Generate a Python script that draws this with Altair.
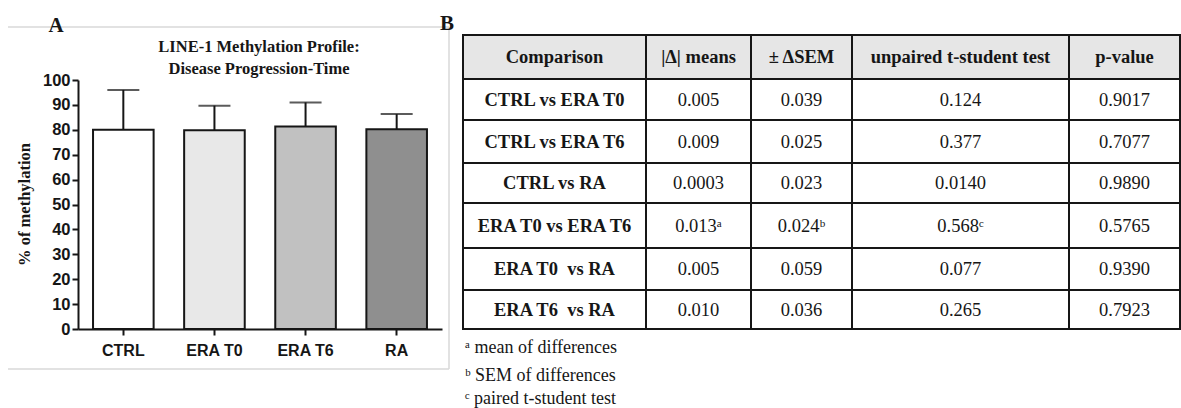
import altair as alt
import pandas as pd

# ---- Panel A: LINE-1 methylation (%) per group; bar = mean, whisker = upper error
groups = ["CTRL", "ERA T0", "ERA T6", "RA"]
means = [80.0, 79.8, 81.3, 80.2]
upper = [96.0, 89.7, 91.0, 86.3]
fills = ["#ffffff", "#e8e8e8", "#c1c1c1", "#8f8f8f"]
y_ticks = list(range(0, 101, 10))

# ---- Panel B: pairwise comparisons
headers = ["Comparison", "|Δ| means", "± ΔSEM", "unpaired t-student test", "p-value"]
comparisons = ["CTRL vs ERA T0", "CTRL vs ERA T6", "CTRL vs RA",
               "ERA T0 vs ERA T6", "ERA T0\u00a0 vs RA", "ERA T6\u00a0 vs RA"]
abs_delta = ["0.005", "0.009", "0.0003", "0.013ᵃ", "0.005", "0.010"]
delta_sem = ["0.039", "0.025", "0.023", "0.024ᵇ", "0.059", "0.036"]
t_values = ["0.124", "0.377", "0.0140", "0.568ᶜ", "0.077", "0.265"]
p_values = ["0.9017", "0.7077", "0.9890", "0.5765", "0.9390", "0.7923"]
footnotes = ["ᵃ mean of differences", "ᵇ SEM of differences", "ᶜ paired t-student test"]

# table geometry (pixels)
col_widths = [183, 105, 101, 217, 111]
row_heights = [44, 41, 43, 40, 45, 42, 39]
TABLE_X = [463, 1180]
TABLE_Y = [35, 329]

SERIF = "Liberation Serif"
SANS = "Liberation Sans"
INK = "#161616"
one = pd.DataFrame({"k": [0]})

# ---------------- Panel A ----------------
bar_df = pd.DataFrame({"group": groups, "mean": means, "upper": upper, "fill": fills})

xs = alt.Scale(domain=groups, range=[78, 442], paddingInner=0.335, paddingOuter=0.165)
ys = alt.Scale(domain=[0, 100], range=[329, 80], nice=False, zero=True)

x_enc = alt.X("group:N", sort=groups, scale=xs,
              axis=alt.Axis(title=None, labelAngle=0, labelFont=SANS, labelFontWeight="bold",
                            labelFontSize=16, labelColor=INK, labelPadding=7,
                            tickSize=6, tickWidth=2, tickColor=INK,
                            domainColor=INK, domainWidth=2, grid=False, offset=-79))
y_axis = alt.Axis(values=y_ticks, title="% of methylation", titleFont=SERIF,
                  titleFontSize=16.5, titleFontWeight="bold", titleColor=INK,
                  titleX=-54, titleY=204, titleBaseline="middle",
                  labelFont=SANS, labelFontWeight="bold", labelFontSize=16.5,
                  labelColor=INK, labelPadding=2, tickSize=6, tickWidth=2,
                  tickColor=INK, domainColor=INK, domainWidth=2, grid=False, offset=-78)

base = alt.Chart(bar_df)
whisker = base.mark_rule(color=INK, strokeWidth=2).encode(
    x=x_enc, y=alt.Y("mean:Q", scale=ys, axis=y_axis), y2="upper:Q")
caps = base.mark_tick(color=INK, size=32, thickness=2).encode(
    x=x_enc, y=alt.Y("upper:Q", scale=ys))
bars = base.mark_bar(stroke=INK, strokeWidth=2).encode(
    x=x_enc, y=alt.Y("mean:Q", scale=ys), fill=alt.Fill("fill:N", scale=None))
panel_a = alt.layer(whisker, bars, caps)

frame_color = "#d8d8d8"
frame = alt.layer(
    alt.Chart(one).mark_rule(color=frame_color, strokeWidth=1.5).encode(
        x=alt.value(8), x2=alt.value(449), y=alt.value(27)),
    alt.Chart(one).mark_rule(color=frame_color, strokeWidth=1.5).encode(
        x=alt.value(449), y=alt.value(27), y2=alt.value(369)),
    alt.Chart(one).mark_rule(color=frame_color, strokeWidth=1.5).encode(
        x=alt.value(8), x2=alt.value(449), y=alt.value(369)),
)

def label(text, x, y, size, weight="bold", align="center"):
    return alt.Chart(one).mark_text(
        text=text, font=SERIF, fontSize=size, fontWeight=weight, color=INK,
        align=align, baseline="alphabetic").encode(x=alt.value(x), y=alt.value(y))

titles = alt.layer(
    label("A", 56, 32, 21),
    label("LINE-1 Methylation Profile:", 259, 51.5, 16.5),
    label("Disease Progression-Time", 259, 73.5, 16.5),
    label("B", 447, 30, 21),
    label(footnotes[0], 465, 353, 18, "normal", "left"),
    label(footnotes[1], 465, 381, 18, "normal", "left"),
    label(footnotes[2], 465, 404, 18, "normal", "left"),
)

# ---------------- Panel B ----------------
x_edges = [0]
for w in col_widths:
    x_edges.append(x_edges[-1] + w)
y_edges = [0]
for h in row_heights:
    y_edges.append(y_edges[-1] + h)

rows = [headers] + [list(r) for r in zip(comparisons, abs_delta, delta_sem, t_values, p_values)]
cells = []
for r, row in enumerate(rows):
    for c, txt in enumerate(row):
        cells.append({
            "x0": x_edges[c], "x1": x_edges[c + 1],
            "y0": y_edges[r], "y1": y_edges[r + 1],
            "xc": (x_edges[c] + x_edges[c + 1]) / 2,
            "yc": (y_edges[r] + y_edges[r + 1]) / 2,
            "label": txt,
            "bold": r == 0 or c == 0,
            "fill": "#e6e6e6" if r == 0 else "#ffffff",
        })
cell_df = pd.DataFrame(cells)

tx = alt.Scale(domain=[0, x_edges[-1]], range=TABLE_X, zero=False, nice=False)
ty = alt.Scale(domain=[0, y_edges[-1]], range=TABLE_Y, zero=False, nice=False)

tbase = alt.Chart(cell_df)
cell_rects = tbase.mark_rect(stroke=INK, strokeWidth=2).encode(
    x=alt.X("x0:Q", scale=tx, axis=None), x2="x1:Q",
    y=alt.Y("y0:Q", scale=ty, axis=None), y2="y1:Q",
    fill=alt.Fill("fill:N", scale=None))
bold_text = tbase.mark_text(font=SERIF, fontSize=18.5, fontWeight="bold", color=INK,
                            baseline="middle").transform_filter("datum.bold").encode(
    x=alt.X("xc:Q", scale=tx, axis=None), y=alt.Y("yc:Q", scale=ty, axis=None),
    text="label:N")
plain_text = tbase.mark_text(font=SERIF, fontSize=18.5, color=INK,
                             baseline="middle").transform_filter("!datum.bold").encode(
    x=alt.X("xc:Q", scale=tx, axis=None), y=alt.Y("yc:Q", scale=ty, axis=None),
    text="label:N")
panel_b = alt.layer(cell_rects, bold_text, plain_text)

chart = alt.layer(frame, panel_a, panel_b, titles).resolve_scale(
    x="independent", y="independent"
).properties(
    width=1181, height=408, padding=0,
    autosize=alt.AutoSizeParams(type="none"),
    background="#ffffff",
).configure_view(stroke=None)

chart.save("out.html", embed_options={"renderer": "svg", "actions": False})
